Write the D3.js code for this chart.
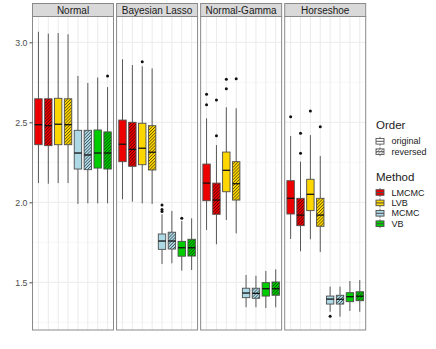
<!DOCTYPE html>
<html>
<head>
<meta charset="utf-8">
<script src="https://cdn.jsdelivr.net/npm/d3@7"></script>
<style>
  body { margin: 0; background: #fff; }
  svg { display: block; font-family: "Liberation Sans", Arial, sans-serif; }
</style>
</head>
<body>
<svg id="chart" width="436" height="349"></svg>
<script>
// facets, methods, orders
var priors = ["Normal", "Bayesian Lasso", "Normal-Gamma", "Horseshoe"];
var methods = ["LMCMC", "LVB", "MCMC", "VB"];
var orders = ["original", "reversed"];
var yTicks = [1.5, 2.0, 2.5, 3.0];
var yMinor = [1.25, 1.75, 2.25, 2.75];

// boxes: [lower whisker, q1, median, q3, upper whisker]
// order inside each panel: LMCMC-o, LMCMC-r, LVB-o, LVB-r, MCMC-o, MCMC-r, VB-o, VB-r
var normalBoxes = [
  [2.120, 2.360, 2.485, 2.647, 3.066], [2.116, 2.354, 2.479, 2.647, 3.054],
  [2.120, 2.360, 2.488, 2.650, 3.058], [2.120, 2.360, 2.485, 2.647, 3.050],
  [1.990, 2.208, 2.308, 2.450, 2.790], [1.994, 2.204, 2.296, 2.450, 2.746],
  [1.994, 2.214, 2.308, 2.452, 2.780], [1.994, 2.208, 2.308, 2.440, 2.720]
];
var normalOutliers = [[], [], [], [], [], [], [], [2.79]];

var lassoBoxes = [
  [2.019, 2.254, 2.363, 2.514, 2.894], [2.004, 2.225, 2.331, 2.500, 2.858],
  [1.994, 2.235, 2.338, 2.494, 2.850], [1.990, 2.202, 2.313, 2.479, 2.837],
  [1.614, 1.706, 1.758, 1.802, 1.925], [1.619, 1.708, 1.758, 1.813, 1.946],
  [1.573, 1.663, 1.716, 1.756, 1.883], [1.577, 1.664, 1.716, 1.769, 1.900]
];
var lassoOutliers = [[], [], [2.879], [], [1.983, 1.955, 1.943], [], [1.900], []];

var gammaBoxes = [
  [1.827, 2.010, 2.120, 2.239, 2.525], [1.738, 1.925, 2.014, 2.120, 2.358],
  [1.889, 2.066, 2.200, 2.314, 2.594], [1.806, 2.014, 2.116, 2.254, 2.588],
  [1.344, 1.404, 1.433, 1.463, 1.546], [1.344, 1.400, 1.431, 1.463, 1.541],
  [1.339, 1.414, 1.460, 1.498, 1.571], [1.344, 1.419, 1.460, 1.502, 1.581]
];
var gammaOutliers = [[2.675, 2.610], [2.639, 2.416], [2.769, 2.710], [2.773], [], [], [], []];

var horseshoeBoxes = [
  [1.771, 1.927, 2.025, 2.135, 2.414], [1.694, 1.854, 1.920, 2.025, 2.254],
  [1.769, 1.948, 2.050, 2.144, 2.420], [1.689, 1.850, 1.920, 2.025, 2.289],
  [1.316, 1.364, 1.395, 1.414, 1.473], [1.285, 1.364, 1.394, 1.419, 1.473],
  [1.321, 1.379, 1.410, 1.435, 1.508], [1.316, 1.385, 1.413, 1.441, 1.514]
];
var horseshoeOutliers = [[2.535], [2.431, 2.306], [2.571], [2.473], [1.288], [], [], []];

var panelBoxes = [normalBoxes, lassoBoxes, gammaBoxes, horseshoeBoxes];
var panelOutliers = [normalOutliers, lassoOutliers, gammaOutliers, horseshoeOutliers];

var methodColors = ["#EE0000", "#FFD700", "#ADD8E6", "#00CD00"];

// ---------------- layout ----------------
var svg = d3.select("#chart");
var stripTop = 3.5, panelTop = 16.5, panelBottom = 330;

var facetX = d3.scaleBand().domain(priors).range([32.5, 365.7]).paddingInner(0.0365);
var y = d3.scaleLinear().domain([1.2019, 3.1613]).range([panelBottom, panelTop]);

var cats = [];
methods.forEach(function(m) {
  orders.forEach(function(o) { cats.push(m + "|" + o); });
});
var x = d3.scalePoint().domain(cats).range([0, facetX.bandwidth()]).padding(0.6);
var boxW = x.step() * 0.75;

// hatch patterns for "reversed"
var defs = svg.append("defs");
function addHatch(id, bg, line, sw) {
  var s = 2.2;
  var p = defs.append("pattern")
    .attr("id", id)
    .attr("patternUnits", "userSpaceOnUse")
    .attr("width", s).attr("height", s)
    .attr("patternTransform", "rotate(45)");
  p.append("rect").attr("width", s).attr("height", s).attr("fill", bg);
  p.append("line").attr("x1", 0).attr("y1", 0).attr("x2", 0).attr("y2", s)
    .attr("stroke", line).attr("stroke-width", sw);
}
methods.forEach(function(m, i) { addHatch("hatch-" + m, methodColors[i], "rgba(0,0,0,0.75)", 1.2); });
addHatch("hatch-key", "#fff", "#555", 1);

function fillFor(mi, oi) {
  return oi === 0 ? methodColors[mi] : "url(#hatch-" + methods[mi] + ")";
}

// ---------------- panels ----------------
priors.forEach(function(prior, pi) {
  var g = svg.append("g").attr("transform", "translate(" + facetX(prior) + ",0)");
  var w = facetX.bandwidth();

  // strip
  g.append("rect")
    .attr("x", 0).attr("y", stripTop)
    .attr("width", w).attr("height", panelTop - stripTop)
    .attr("fill", "#D9D9D9").attr("stroke", "#8a8a8a").attr("stroke-width", 1);
  g.append("text")
    .attr("x", w / 2).attr("y", (stripTop + panelTop) / 2 + 3.6)
    .attr("text-anchor", "middle")
    .attr("font-size", 10).attr("fill", "#1a1a1a")
    .text(prior);

  // grid
  g.selectAll(".minor").data(yMinor).enter().append("line")
    .attr("x1", 0).attr("x2", w)
    .attr("y1", function(d) { return y(d); }).attr("y2", function(d) { return y(d); })
    .attr("stroke", "#F2F2F2").attr("stroke-width", 0.7);
  g.selectAll(".major").data(yTicks).enter().append("line")
    .attr("x1", 0).attr("x2", w)
    .attr("y1", function(d) { return y(d); }).attr("y2", function(d) { return y(d); })
    .attr("stroke", "#EBEBEB").attr("stroke-width", 1);
  g.selectAll(".vgrid").data(cats).enter().append("line")
    .attr("x1", function(d) { return x(d); }).attr("x2", function(d) { return x(d); })
    .attr("y1", panelTop).attr("y2", panelBottom)
    .attr("stroke", "#EBEBEB").attr("stroke-width", 1);

  var boxes = panelBoxes[pi];
  var outs = panelOutliers[pi];

  cats.forEach(function(c, ci) {
    var b = boxes[ci];
    var mi = Math.floor(ci / 2), oi = ci % 2;
    var cx = x(c);
    // whiskers
    g.append("line").attr("x1", cx).attr("x2", cx)
      .attr("y1", y(b[4])).attr("y2", y(b[3]))
      .attr("stroke", "#333").attr("stroke-width", 0.8);
    g.append("line").attr("x1", cx).attr("x2", cx)
      .attr("y1", y(b[1])).attr("y2", y(b[0]))
      .attr("stroke", "#333").attr("stroke-width", 0.8);
    // box
    g.append("rect")
      .attr("x", cx - boxW / 2).attr("y", y(b[3]))
      .attr("width", boxW).attr("height", y(b[1]) - y(b[3]))
      .attr("fill", fillFor(mi, oi))
      .attr("stroke", "#4d4d4d").attr("stroke-width", 0.9);
    // median
    g.append("line")
      .attr("x1", cx - boxW / 2).attr("x2", cx + boxW / 2)
      .attr("y1", y(b[2])).attr("y2", y(b[2]))
      .attr("stroke", "#111").attr("stroke-width", 1.3);
    // outliers
    g.selectAll(".out" + ci).data(outs[ci]).enter().append("circle")
      .attr("cx", cx).attr("cy", function(d) { return y(d); })
      .attr("r", 1.5).attr("fill", "#111");
  });

  // panel border
  g.append("rect")
    .attr("x", 0).attr("y", panelTop)
    .attr("width", w).attr("height", panelBottom - panelTop)
    .attr("fill", "none").attr("stroke", "#8a8a8a").attr("stroke-width", 1);
});

// y axis
var yAxis = svg.append("g").attr("transform", "translate(32.5,0)")
  .call(d3.axisLeft(y).tickValues(yTicks).tickFormat(d3.format(".1f")).tickSize(3).tickPadding(2));
yAxis.select(".domain").remove();
yAxis.selectAll("line").attr("stroke", "#4d4d4d");
yAxis.selectAll("text").attr("font-size", 8.8).attr("fill", "#4d4d4d")
  .attr("font-family", "Liberation Sans, Arial, sans-serif");

// ---------------- legend ----------------
var leg = svg.append("g").attr("transform", "translate(376,0)");

function keyGlyph(gy, fill, stroke) {
  var k = leg.append("g").attr("transform", "translate(4," + gy + ")");
  k.append("line").attr("x1", 0).attr("x2", 0).attr("y1", -4.5).attr("y2", 4.5)
    .attr("stroke", stroke).attr("stroke-width", 0.8);
  k.append("rect").attr("x", -4).attr("y", -2.8).attr("width", 8).attr("height", 5.6)
    .attr("fill", fill).attr("stroke", stroke).attr("stroke-width", 0.9);
  k.append("line").attr("x1", -4).attr("x2", 4).attr("y1", 0).attr("y2", 0)
    .attr("stroke", stroke).attr("stroke-width", 1);
}

leg.append("text").attr("x", 0).attr("y", 128.5).attr("font-size", 11.5).attr("fill", "#1a1a1a").text("Order");
var orderY = [141.3, 151.7];
orders.forEach(function(o, i) {
  keyGlyph(orderY[i], i === 0 ? "#fff" : "url(#hatch-key)", "#555");
  leg.append("text").attr("x", 15.5).attr("y", orderY[i] + 3)
    .attr("font-size", 9).attr("fill", "#1a1a1a").text(o);
});

leg.append("text").attr("x", 0).attr("y", 181).attr("font-size", 11.5).attr("fill", "#1a1a1a").text("Method");
var methodY = d3.scalePoint().domain(methods).range([192.5, 223.7]);
methods.forEach(function(m, i) {
  keyGlyph(methodY(m), methodColors[i], "#4d4d4d");
  leg.append("text").attr("x", 15.5).attr("y", methodY(m) + 3)
    .attr("font-size", 9).attr("fill", "#1a1a1a").text(m);
});
</script>
</body>
</html>
